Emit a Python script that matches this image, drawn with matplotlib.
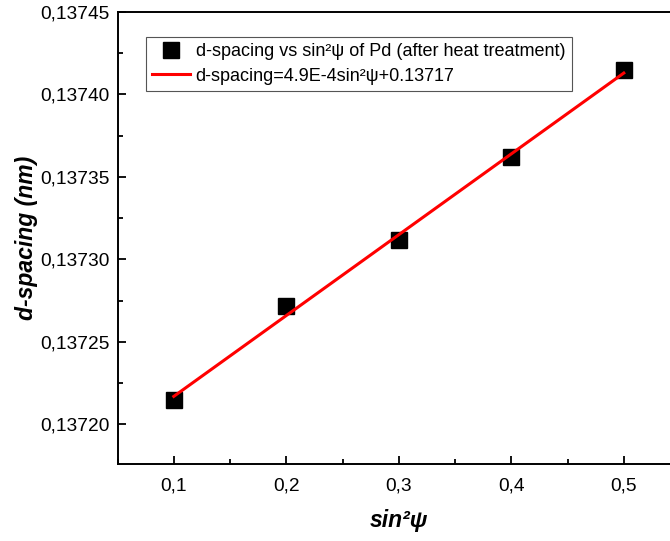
import numpy as np
import matplotlib
matplotlib.use("Agg")
import matplotlib.pyplot as plt
from matplotlib.ticker import FuncFormatter, MultipleLocator

plt.rcParams['font.family'] = ['Liberation Sans', 'DejaVu Sans']

sin2psi = [0.1, 0.2, 0.3, 0.4, 0.5]
d_spacing = [0.137215, 0.137272, 0.137312, 0.137362, 0.137415]
fit_slope = 4.9e-4
fit_intercept = 0.137168
legend_data = "d-spacing vs sin²ψ of Pd (after heat treatment)"
legend_fit = "d-spacing=4.9E-4sin²ψ+0.13717"

fig = plt.figure(figsize=(6.70, 5.41), dpi=100)
ax = fig.add_axes([0.1754, 0.1423, 0.8396, 0.8355])

x = np.array(sin2psi)
ax.plot(x, np.array(d_spacing), linestyle='none', marker='s', markersize=11.5,
        color='black', label=legend_data, zorder=2)
ax.plot(x, fit_slope * x + fit_intercept, color='#ff0000', linewidth=2.2,
        label=legend_fit, zorder=3)

ax.set_xlim(0.05, 0.55)
ax.set_ylim(0.137176, 0.13745)
ax.xaxis.set_major_locator(MultipleLocator(0.1))
ax.xaxis.set_minor_locator(MultipleLocator(0.05))
ax.yaxis.set_major_locator(MultipleLocator(0.00005))
ax.yaxis.set_minor_locator(MultipleLocator(0.000025))
ax.xaxis.set_major_formatter(FuncFormatter(lambda v, p: f"{v:.1f}".replace('.', ',')))
ax.yaxis.set_major_formatter(FuncFormatter(lambda v, p: f"{v:.5f}".replace('.', ',')))

for s in ax.spines.values():
    s.set_linewidth(1.4)
ax.tick_params(which='major', direction='in', length=6, width=1.3, labelsize=13.8, pad=6)
ax.tick_params(axis='x', which='major', pad=10)
ax.tick_params(which='minor', direction='in', length=3.5, width=1.3)

ax.set_xlabel("sin²ψ", fontsize=16.5, fontweight='bold', fontstyle='italic', labelpad=10)
ax.set_ylabel("d-spacing (nm)", fontsize=16.5, fontweight='bold', fontstyle='italic', labelpad=1.5)

leg = ax.legend(loc='upper left', bbox_to_anchor=(0.0507, 0.9447), borderaxespad=0,
                fontsize=13, frameon=True, fancybox=False, edgecolor='#555555',
                framealpha=1, handlelength=2.1, handletextpad=0.3, borderpad=0.35,
                labelspacing=0.4)
leg.get_frame().set_linewidth(0.8)

fig.savefig("out.png", dpi=100)
